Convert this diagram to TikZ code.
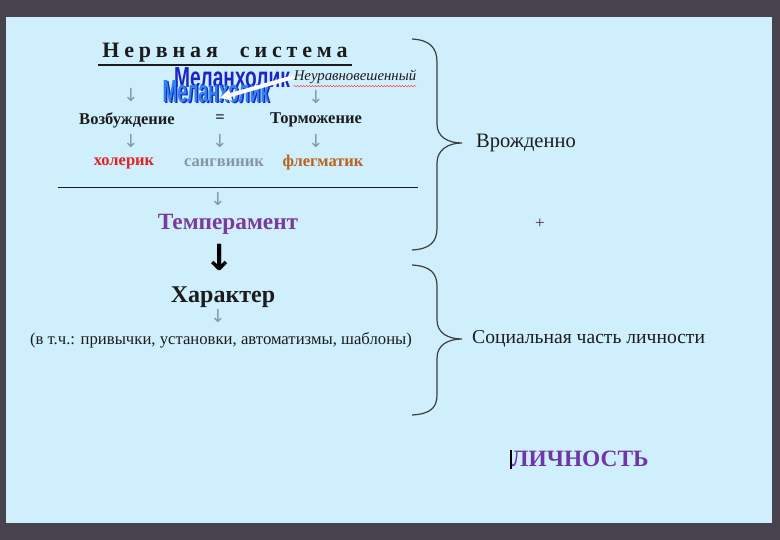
\documentclass[tikz,border=0pt]{standalone}
\usepackage{fontspec}
\setmainfont{Liberation Serif}
\newfontfamily\arrowfont{DejaVu Sans}
\newfontfamily\artfont{Liberation Sans}
\newfontfamily\spacedfont[LetterSpace=22]{Liberation Serif}
\usetikzlibrary{arrows.meta,decorations.pathmorphing}

\definecolor{bgdark}{HTML}{46434F}
\definecolor{panel}{HTML}{CFEFFC}
\definecolor{inkdark}{HTML}{1C1C1C}
\definecolor{arrowgray}{HTML}{8797A6}
\definecolor{cholred}{HTML}{E02424}
\definecolor{sanggray}{HTML}{8895A2}
\definecolor{phlegbrown}{HTML}{B8621E}
\definecolor{tempviolet}{HTML}{7A3C9C}
\definecolor{artdeep}{HTML}{1B24C8}
\definecolor{artlight}{HTML}{2F86E8}

\tikzset{
  word/.style={text=inkdark, inner sep=0pt},
  boldword/.style={word, font=\fontsize{16.5}{19}\selectfont\bfseries},
  thinarrow/.style={inner sep=0pt, text=arrowgray, font=\arrowfont\fontsize{18}{20}\selectfont},
  bracket/.style={draw=inkdark!85, line width=1.2pt},
  artword/.style={inner sep=0pt, font=\artfont\fontsize{32}{34}\selectfont\bfseries, xscale=0.55},
}

\begin{document}
\begin{tikzpicture}[x=1pt, y=-1pt]
  % frame
  \fill[bgdark] (0,0) rectangle (780,540);
  \fill[panel] (6,17) rectangle (772,523);

  % nervous system
  \node[word, font=\spacedfont\fontsize{22}{26}\selectfont\bfseries] (nerv) at (225,53) {Нервная\hspace{1.0em}система};
  \draw[inkdark, line width=1.4pt] (98,65) -- (352,65);

  % word art and the white arrow
  \node[inner sep=0pt, text=artdeep, font=\artfont\fontsize{29}{30}\selectfont\bfseries, xscale=0.66] (melan2) at (232,78) {Меланхолик};
  \node[artword, text=artdeep] (melanshade) at (217.5,93) {Меланхолик};
  \node[artword, text=artlight] (melan) at (216,92) {Меланхолик};
  \node[word, font=\fontsize{14.8}{17}\selectfont\itshape] (neur) at (355,77) {Неуравновешенный};
  \draw[red!80, decorate, decoration={snake, amplitude=0.7pt, segment length=3pt}] (neur.south west) ++(0,2) -- ([yshift=-2pt]neur.south east);
  \draw[white, line width=4pt, -{Triangle[length=11pt,width=11pt]}] (neur.west) -- (220,98);

  \node[thinarrow] (a1) at (131,95) {↓};
  \node[thinarrow] (a2) at (316,97) {↓};

  % excitation / inhibition
  \node[boldword] (vozb) at (127,120) {Возбуждение};
  \node[boldword] (eq) at (220,119) {=};
  \node[boldword] (torm) at (316,120) {Торможение};

  \node[thinarrow] (b1) at (131,141) {↓};
  \node[thinarrow] (b2) at (220,141) {↓};
  \node[thinarrow] (b3) at (316,141) {↓};

  \node[boldword, text=cholred] (chol) at (124,163) {холерик};
  \node[boldword, text=sanggray] (sang) at (224,163) {сангвиник};
  \node[boldword, text=phlegbrown] (phleg) at (323,163) {флегматик};

  \draw[inkdark, line width=0.9pt] (58,187) -- (418,187);
  \node[thinarrow] (c1) at (218,199) {↓};

  \node[word, text=tempviolet, font=\fontsize{23.3}{26}\selectfont\bfseries] (temp) at (228,224) {Темперамент};
  \node[inner sep=0pt, text=black, font=\arrowfont\fontsize{36}{38}\selectfont\bfseries] (big) at (220,257) {↓};

  \node[word, font=\fontsize{24}{27}\selectfont\bfseries] (char) at (223,297) {Характер};
  \node[thinarrow] (d1) at (218,316) {↓};
  \node[word, font=\fontsize{16.7}{19}\selectfont] (habits) at (221,340) {(в т.ч.: привычки, установки, автоматизмы, шаблоны)};

  % braces
  \draw[bracket] (412,39) .. controls (430,40) and (437,48) .. (437,62) -- (437,124)
    .. controls (437,137) and (448,143) .. (462,143) coordinate (tip1)
    .. controls (448,143) and (437,150) .. (437,163) -- (437,228)
    .. controls (437,242) and (430,249) .. (412,250);
  \draw[bracket] (412,265) .. controls (430,266) and (437,273) .. (437,286) -- (437,320)
    .. controls (437,333) and (448,339) .. (462,339) coordinate (tip2)
    .. controls (448,339) and (437,345) .. (437,358) -- (437,395)
    .. controls (437,408) and (430,414) .. (412,415);

  \node[word, font=\fontsize{20.5}{23}\selectfont, anchor=west] (born) at (476,143) {Врожденно};
  \node[word, text=tempviolet!60!black, font=\fontsize{17}{19}\selectfont] (plus) at (540,224) {+};
  \node[word, font=\fontsize{19.6}{22}\selectfont, anchor=west] (social) at (472,339) {Социальная часть личности};

  \node[word, text=tempviolet!90!blue, font=\fontsize{23.4}{26}\selectfont\bfseries, anchor=west] (lich) at (511,459) {ЛИЧНОСТЬ};
  \draw[black, line width=1.3pt] (lich.north west) ++(0,-1) -- ([yshift=-2pt]lich.south west);
\end{tikzpicture}
\end{document}
